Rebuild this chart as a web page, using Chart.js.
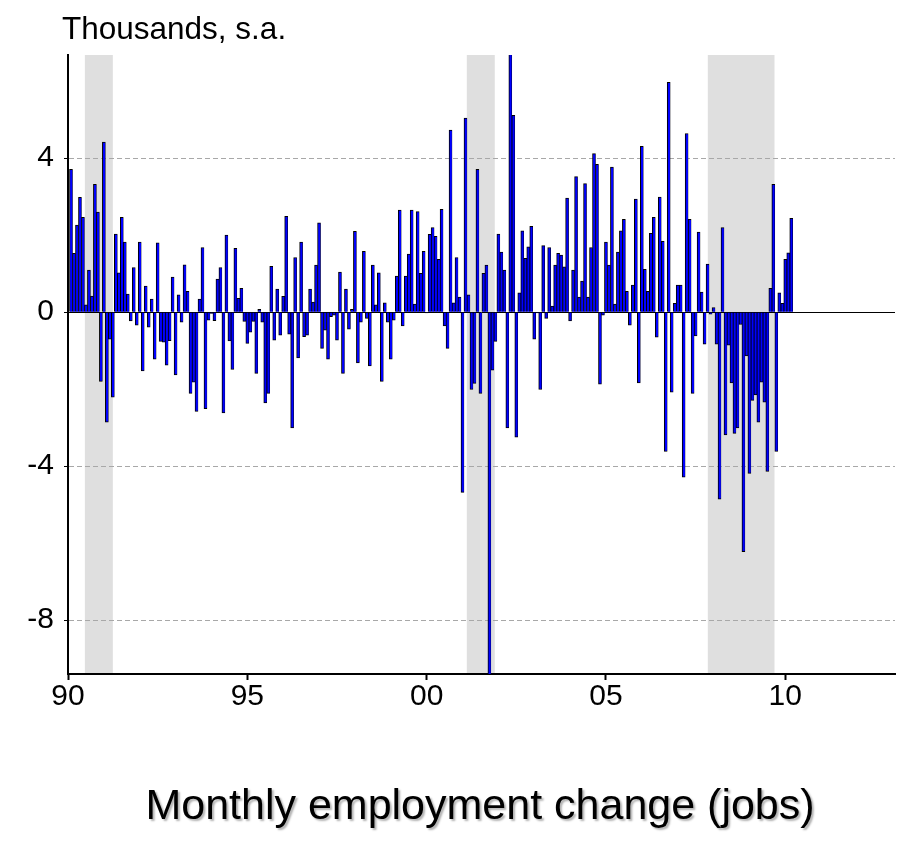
<!DOCTYPE html>
<html>
<head>
<meta charset="utf-8">
<script src="https://cdn.jsdelivr.net/npm/chart.js@4.4.0/dist/chart.umd.min.js"></script>
<style>
  html, body { margin: 0; padding: 0; background: #fff; }
  #wrap { width: 901px; height: 848px; }
</style>
</head>
<body>
<div id="wrap"><canvas id="empChart" width="901" height="848"></canvas></div>
<script>
// monthly change, Jan 1990 onwards (thousands, s.a.)
const startYear = 1990;
const monthlyChange = [
  3.71, 1.53, 2.26, 2.98, 2.46, 0.19, 1.09, 0.42, 3.32, 2.60, -1.80, 4.42,
  -2.86, -0.70, -2.21, 2.03, 1.02, 2.46, 1.82, 0.47, -0.23, 1.16, -0.34, 1.82,
  -1.53, 0.68, -0.39, 0.34, -1.22, 1.80, -0.76, -0.78, -1.38, -0.74, 0.91, -1.63,
  0.45, -0.26, 1.23, 0.54, -2.11, -1.82, -2.58, 0.34, 1.68, -2.51, -0.21, -0.03,
  -0.22, 0.86, 1.16, -2.62, 2.00, -0.75, -1.49, 1.66, 0.36, 0.62, -0.24, -0.81,
  -0.52, -0.24, -1.59, 0.07, -0.26, -2.36, -2.11, 1.19, -0.73, 0.60, -0.60, 0.41,
  2.49, -0.57, -3.01, 1.42, -1.19, 1.82, -0.64, -0.60, 0.60, 0.26, 1.22, 2.32,
  -0.94, -0.47, -1.22, -0.12, -0.08, -0.73, 1.04, -1.59, 0.60, -0.44, 0.07, 2.10,
  -1.32, -0.26, 1.58, -0.16, -1.40, 1.22, 0.19, 1.02, -1.80, 0.24, -0.26, -1.22,
  -0.21, 0.94, 2.65, -0.36, 0.94, 1.51, 2.65, 0.21, 2.61, 1.01, 1.58, -0.02,
  2.02, 2.20, 1.97, 1.37, 2.67, -0.36, -0.94, 4.73, 0.24, 1.42, 0.39, -4.68,
  5.04, 0.45, -2.01, -1.85, 3.71, -2.11, 1.01, 1.22, -9.70, -1.51, -0.76, 2.03,
  1.56, 1.09, -3.01, 6.90, 5.11, -3.25, 0.50, 2.11, 1.40, 1.70, 2.23, -0.70,
  -0.02, -2.01, 1.73, -0.16, 1.68, 0.16, 1.22, 1.53, 1.48, 1.18, 2.96, -0.23,
  1.09, 3.52, 0.39, 0.81, 3.34, 0.39, 1.68, 4.12, 3.84, -1.87, -0.08, 1.82,
  1.22, 3.77, 0.21, 1.56, 2.11, 2.41, 0.54, -0.34, 0.70, 2.94, -1.84, 4.31,
  1.11, 0.54, 2.05, 2.46, -0.65, 2.99, 1.84, -3.62, 5.97, -2.08, 0.23, 0.70,
  0.70, -4.29, 4.64, 2.41, -2.11, -0.62, 2.08, 0.52, -0.83, 1.25, -0.05, 0.12,
  -0.83, -4.86, 2.20, -3.19, -0.86, -1.84, -3.15, -3.01, -0.32, -6.22, -1.14, -4.19,
  -2.29, -2.15, -2.86, -1.82, -2.34, -4.14, 0.62, 3.32, -3.62, 0.50, 0.23, 1.37,
  1.54, 2.44
];

// shaded periods (decimal years)
const recessionStart = [1990.47, 2001.12, 2007.84];
const recessionEnd = [1991.25, 2001.90, 2009.70];

const xTickValues = [1990, 1995, 2000, 2005, 2010];
const xTickLabels = ['90', '95', '00', '05', '10'];
const yTickValues = [-8, -4, 0, 4];
const yTickLabels = ['-8', '-4', '0', '4'];

const unitNote = 'Thousands, s.a.';
const chartTitle = 'Monthly employment change (jobs)';

const fontFamily = "'Liberation Sans', Arial, sans-serif";

// each month sits at the end of its month on the year axis
const points = monthlyChange.map((v, i) => ({ x: startYear + (i + 1) / 12, y: v }));

const extras = {
  id: 'extras',
  beforeDraw(chart) {
    const { ctx, chartArea: a, scales: { x } } = chart;
    ctx.save();
    ctx.fillStyle = '#dfdfdf';
    recessionStart.forEach((s, k) => {
      const x0 = x.getPixelForValue(s);
      const x1 = x.getPixelForValue(recessionEnd[k]);
      ctx.fillRect(x0, a.top, x1 - x0, a.bottom - a.top);
    });
    ctx.restore();
  },
  beforeDatasetsDraw(chart) {
    const { ctx, chartArea: a, scales: { y } } = chart;
    const y0 = Math.round(y.getPixelForValue(0)) + 0.5;
    ctx.save();
    ctx.strokeStyle = '#000';
    ctx.lineWidth = 1;
    ctx.beginPath();
    ctx.moveTo(a.left, y0);
    ctx.lineTo(a.right, y0);
    ctx.stroke();
    ctx.restore();
  },
  afterDraw(chart) {
    const { ctx } = chart;
    ctx.save();
    ctx.fillStyle = '#000';
    ctx.textBaseline = 'alphabetic';
    ctx.textAlign = 'left';
    ctx.font = '31.5px ' + fontFamily;
    ctx.fillText(unitNote, 62, 39);

    ctx.textAlign = 'center';
    ctx.font = '43px ' + fontFamily;
    ctx.shadowColor = 'rgba(0,0,0,0.3)';
    ctx.shadowOffsetX = 2;
    ctx.shadowOffsetY = 2;
    ctx.shadowBlur = 2;
    ctx.fillText(chartTitle, 480, 819);
    ctx.restore();
  }
};

new Chart(document.getElementById('empChart'), {
  type: 'bar',
  data: {
    datasets: [{
      data: points,
      backgroundColor: '#0000ff',
      borderColor: '#000',
      borderWidth: { left: 1, right: 0.5, top: 1, bottom: 1 },
      borderSkipped: 'start',
      barPercentage: 1,
      categoryPercentage: 1
    }]
  },
  options: {
    responsive: false,
    animation: false,
    devicePixelRatio: 1,
    layout: { padding: { top: 55, right: 6, left: 0, bottom: 0 } },
    plugins: {
      legend: { display: false },
      tooltip: { enabled: false }
    },
    scales: {
      x: {
        type: 'linear',
        offset: false,
        min: 1990,
        max: 2013.06,
        afterFit: s => { s.height = 174; },
        afterBuildTicks: s => { s.ticks = xTickValues.map(v => ({ value: v })); },
        ticks: {
          autoSkip: false,
          maxRotation: 0,
          padding: -1,
          color: '#000',
          font: { family: fontFamily, size: 30 },
          callback: v => xTickLabels[xTickValues.indexOf(v)]
        },
        grid: {
          offset: false,
          drawOnChartArea: false,
          drawTicks: true,
          tickLength: 6,
          tickColor: '#000',
          tickWidth: 2
        },
        border: { display: true, color: '#000', width: 2 }
      },
      y: {
        min: -9.4,
        max: 6.68,
        afterFit: s => { s.width = 68; },
        afterBuildTicks: s => { s.ticks = yTickValues.map(v => ({ value: v })); },
        ticks: {
          padding: 10,
          color: '#000',
          font: { family: fontFamily, size: 30 },
          callback: v => yTickLabels[yTickValues.indexOf(v)]
        },
        grid: {
          color: c => (c.tick && c.tick.value === 0) ? 'rgba(0,0,0,0)' : '#a8a8a8',
          lineWidth: 1,
          drawTicks: true,
          tickLength: 4,
          tickColor: '#000'
        },
        border: { display: true, color: '#000', width: 2, dash: [5, 3] }
      }
    }
  },
  plugins: [extras]
});
</script>
</body>
</html>
